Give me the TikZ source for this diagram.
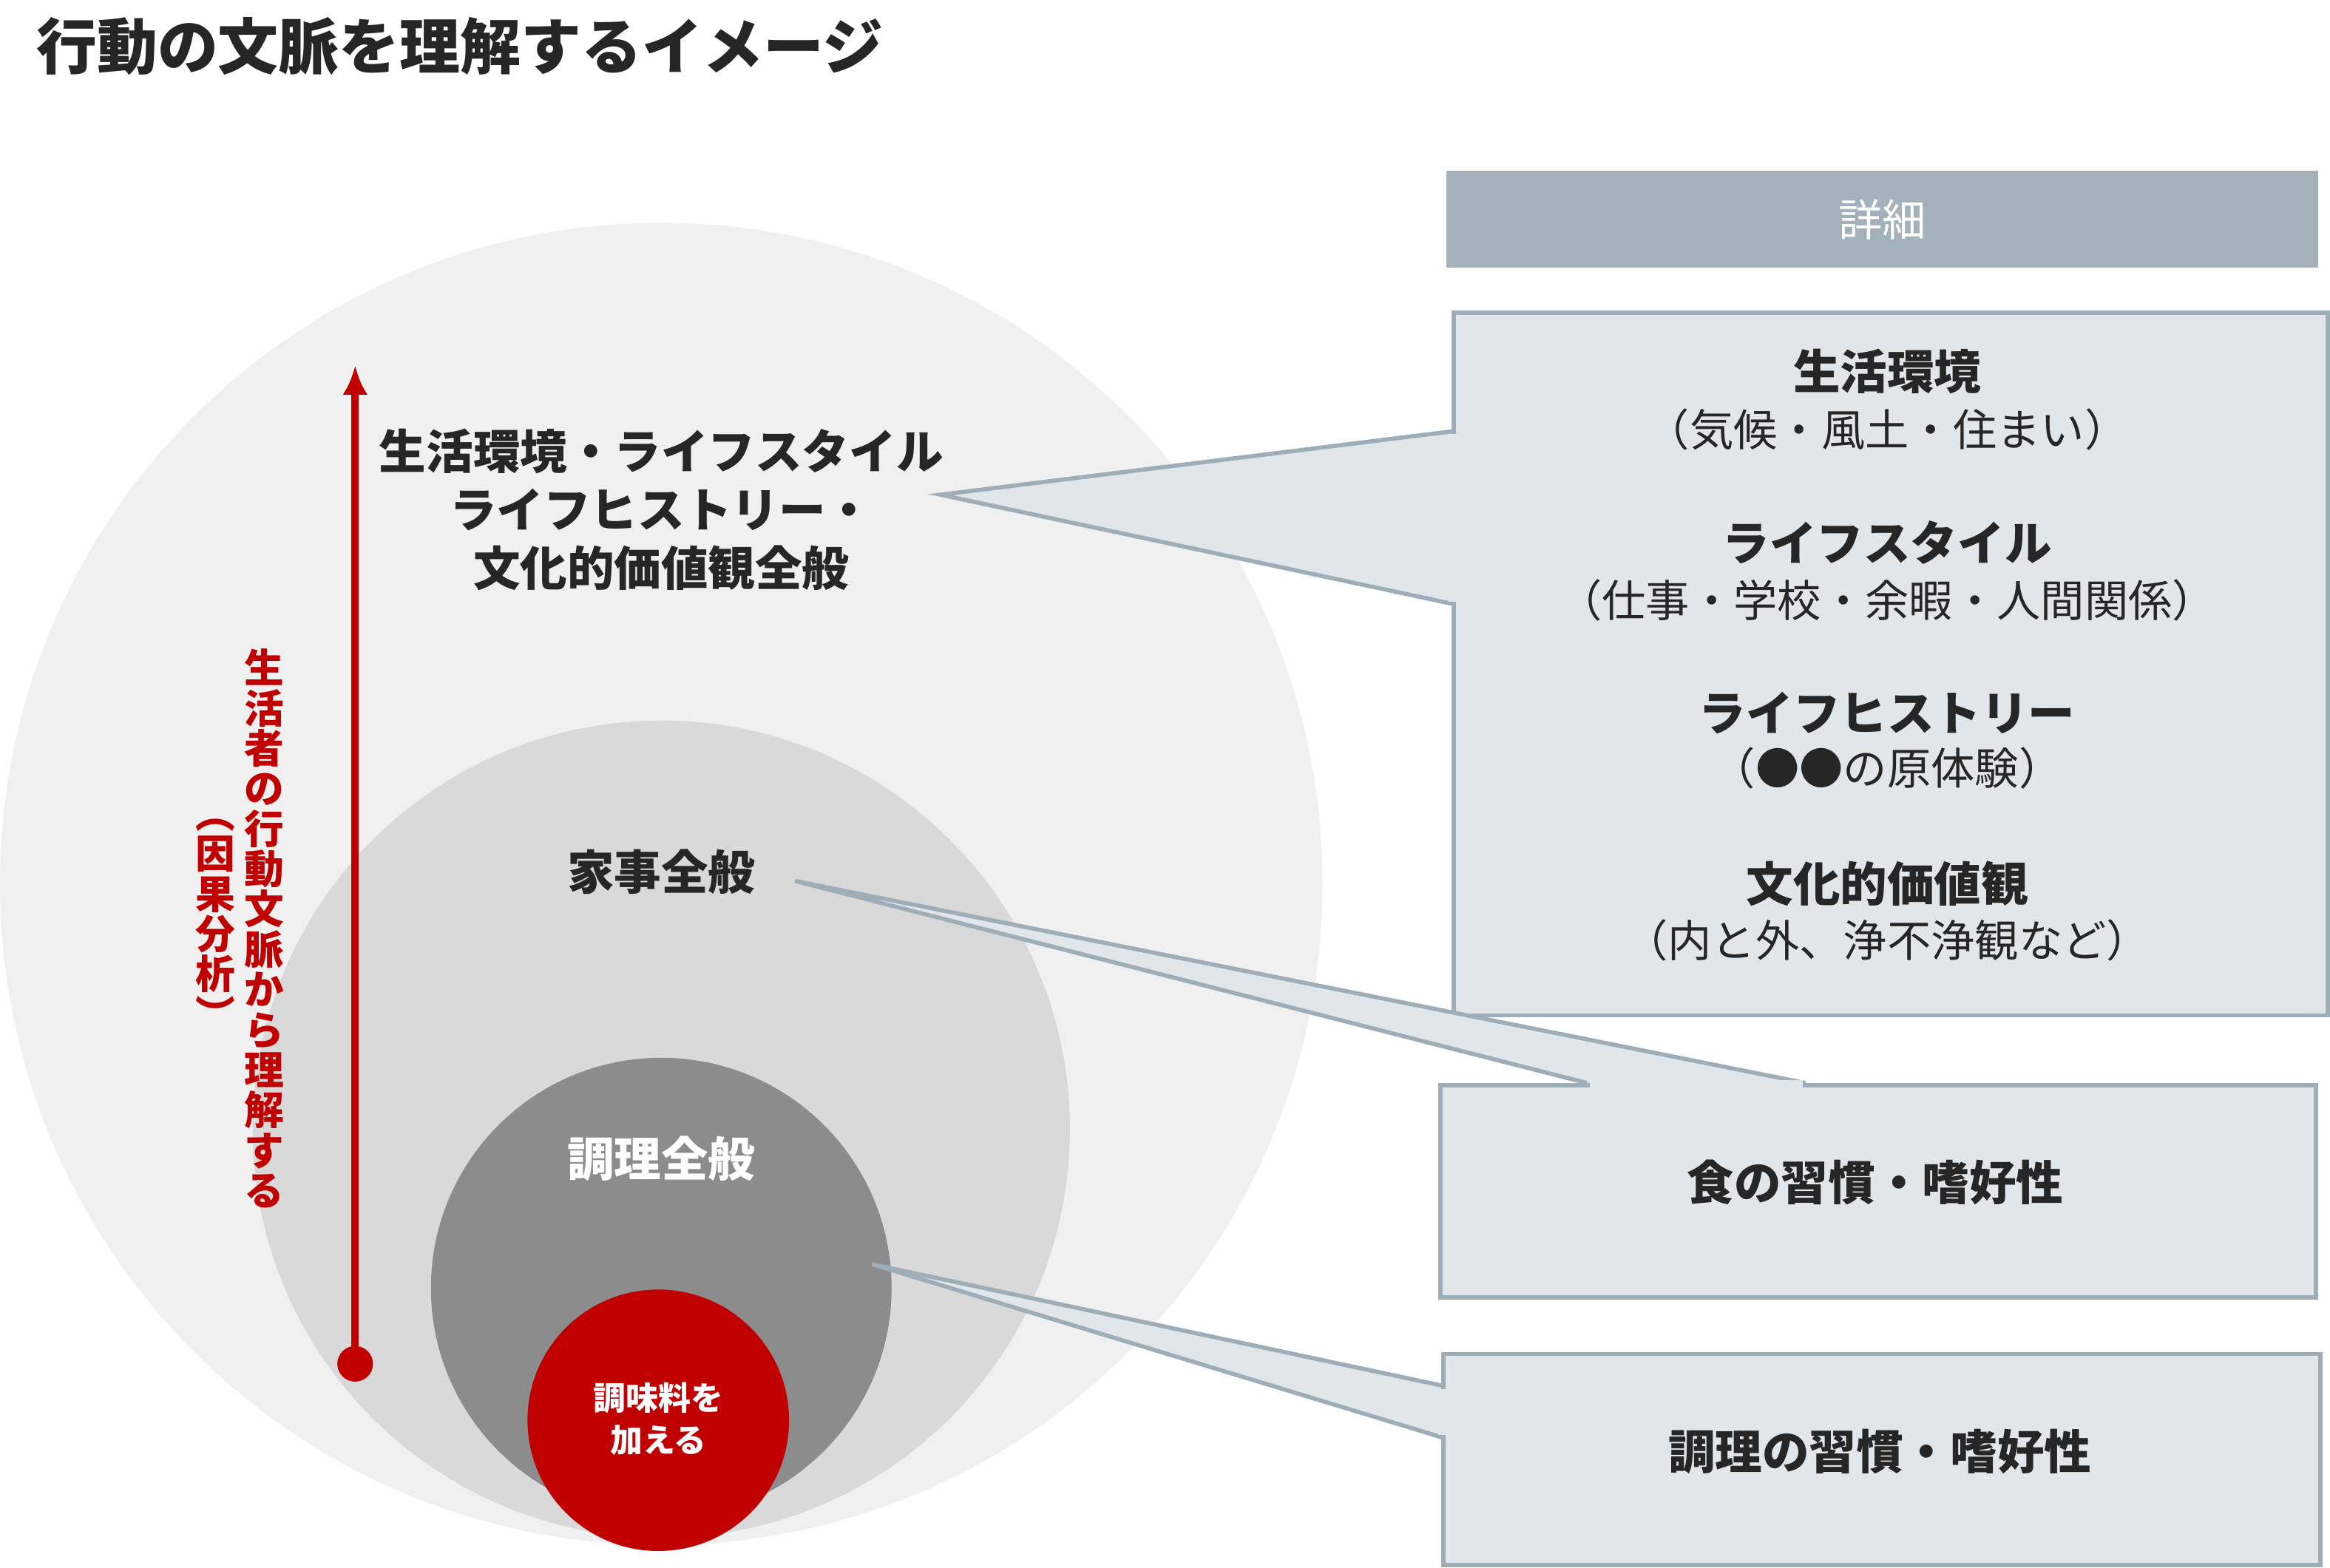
\documentclass[tikz,border=0pt]{standalone}
\usepackage{fontspec}
\usetikzlibrary{arrows.meta}
\setmainfont{Noto Sans CJK JP}
\definecolor{bg1}{HTML}{F0F0F0}
\definecolor{bg2}{HTML}{D9D9D9}
\definecolor{bg3}{HTML}{8C8C8C}
\definecolor{myred}{HTML}{C00000}
\definecolor{hdr}{HTML}{A3B1BA}
\definecolor{boxf}{HTML}{E1E6EA}
\definecolor{boxd}{HTML}{9DAEB9}
\tikzset{
 lbl/.style={font=\fontsize{45}{56}\selectfont\bfseries, align=center, text=black!85},
 det/.style={fill=boxf, draw=boxd, line width=4pt},
 big/.style={font=\fontsize{45}{56}\selectfont\bfseries, text=black!85},
 sub/.style={font=\fontsize{42}{52}\selectfont, text=black!85},
 vert/.style={font=\fontsize{38}{38.5}\selectfont\bfseries, text=myred, align=center, inner sep=0pt}
}
\begin{document}
\begin{tikzpicture}[x=0.05cm,y=-0.05cm]
\useasboundingbox (0,0) rectangle (1568,1055);
\node[anchor=west, font=\fontsize{58}{60}\selectfont\bfseries, text=black!85] (title) at (22,31) {行動の文脈を理解するイメージ};
\fill[bg1] (445,595) circle (445);
\fill[bg2] (445,760) circle (275);
\fill[bg3] (445,867) circle (155);
\fill[myred] (443,956) circle (88);
% arrow
\coordinate (a0) at (239,918);
\coordinate (a1) at (239,246);
\fill[myred] (a0) circle (12);
\draw[myred, line width=7pt, -{Latex[length=28pt,width=24pt]}] (a0) -- (a1);
\node[vert] (v1) at (178,625) {生\\活\\者\\の\\行\\動\\文\\脈\\か\\ら\\理\\解\\す\\る};
\node[vert] (v2) at (145,622) {︵\\因\\果\\分\\析\\︶};
% callouts
\fill[boxf] (633,333) -- (980,290) -- (980,407) -- cycle;
\draw[boxd, line width=4pt] (980,290) -- (633,333) -- (980,407);
\node[det, minimum width=588*0.05cm, minimum height=473*0.05cm, anchor=north west] (b1) at (977,209) {};
\fill[boxf] (975,292) rectangle (990,405);
\fill[boxf] (535,593) -- (1068,729) -- (1215,729) -- cycle;
\draw[boxd, line width=4pt] (1068,729) -- (535,593) -- (1215,729);
\node[det, minimum width=589*0.05cm, minimum height=143*0.05cm, anchor=north west] (b2) at (968,729) {};
\fill[boxf] (1070,727) rectangle (1213,740);
\fill[boxf] (587,851) -- (972,933) -- (972,968) -- cycle;
\draw[boxd, line width=4pt] (972,933) -- (587,851) -- (972,968);
\node[det, minimum width=590*0.05cm, minimum height=142*0.05cm, anchor=north west] (b3) at (970,910) {};
\fill[boxf] (968,935) rectangle (980,966);
% header
\node[fill=hdr, minimum width=587*0.05cm, minimum height=65*0.05cm, anchor=north west, inner sep=0pt] (h) at (973,115) {};
\node[text=white, font=\fontsize{42}{44}\selectfont] (ht) at (h.center) {詳細};
% labels
\node[lbl] (l1) at (445,343) {生活環境・ライフスタイル\\ライフヒストリー・\\文化的価値観全般};
\node[lbl] (l2) at (445,587) {家事全般};
\node[lbl, text=white] (l3) at (445,780) {調理全般};
\node[font=\fontsize{31}{40}\selectfont\bfseries, text=white, align=center] (l4) at (443,955) {調味料を\\加える};
% detail texts
\node[big] (t1) at (1270,250) {生活環境};
\node[sub] (t2) at (1270,289) {（気候・風土・住まい）};
\node[big] (t3) at (1270,365) {ライフスタイル};
\node[sub] (t4) at (1270,404) {（仕事・学校・余暇・人間関係）};
\node[big] (t5) at (1270,480) {ライフヒストリー};
\node[sub] (t6) at (1270,517) {（●●の原体験）};
\node[big] (t7) at (1270,595) {文化的価値観};
\node[sub] (t8) at (1270,633) {（内と外、浄不浄観など）};
\node[big] (t9) at (1262,796) {食の習慣・嗜好性};
\node[big] (t10) at (1265,977) {調理の習慣・嗜好性};
\end{tikzpicture}
\end{document}
